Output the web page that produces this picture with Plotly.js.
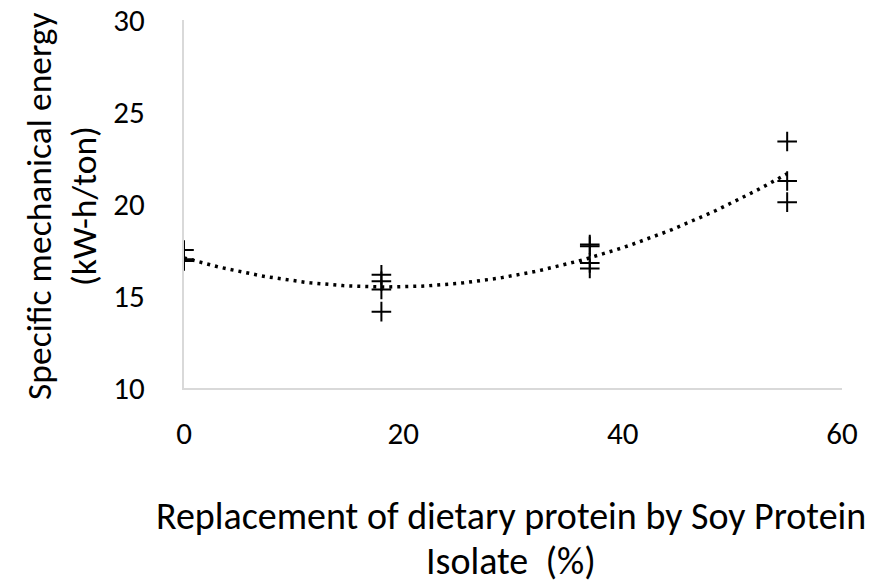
<!DOCTYPE html>
<html>
<head>
<meta charset="utf-8">
<script src="https://cdn.plot.ly/plotly-3.0.1.min.js"></script>
<style>html,body{margin:0;padding:0;background:#fff;}#chart{width:871px;height:583px;}</style>
</head>
<body>
<div id="chart"></div>
<script>
// Observed data: replacement level (%) and specific mechanical energy (kW-h/ton)
var replacement = [0, 0, 0, 18, 18, 18, 18, 37, 37, 37, 37, 55, 55, 55];
var sme = [17.5, 17.0, 16.9, 16.15, 15.8, 15.35, 14.15, 17.8, 17.7, 16.8, 16.5, 23.4, 21.25, 20.1];

var xTicks = [0, 20, 40, 60];
var yTicks = [10, 15, 20, 25, 30];
var xTitleLines = ["Replacement of dietary protein by Soy Protein", "Isolate  (%)"];
var yTitleLines = ["Specific mechanical energy", "(kW-h/ton)"];

// Order-2 polynomial least-squares trendline (as in a spreadsheet trendline)
function polyFit2(xs, ys) {
  var n = xs.length, s = [0,0,0,0,0], t = [0,0,0];
  for (var i = 0; i < n; i++) {
    var x = xs[i], y = ys[i];
    for (var k = 0; k < 5; k++) s[k] += Math.pow(x, k);
    for (var k2 = 0; k2 < 3; k2++) t[k2] += Math.pow(x, k2) * y;
  }
  var A = [[s[0], s[1], s[2], t[0]], [s[1], s[2], s[3], t[1]], [s[2], s[3], s[4], t[2]]];
  for (var c = 0; c < 3; c++) {
    for (var r = c + 1; r < 3; r++) {
      var f = A[r][c] / A[c][c];
      for (var j = c; j < 4; j++) A[r][j] -= f * A[c][j];
    }
  }
  var b = [0,0,0];
  for (var r2 = 2; r2 >= 0; r2--) {
    var v = A[r2][3];
    for (var j2 = r2 + 1; j2 < 3; j2++) v -= A[r2][j2] * b[j2];
    b[r2] = v / A[r2][r2];
  }
  return b;
}
var coef = polyFit2(replacement, sme);
var xMin = Math.min.apply(null, replacement), xMax = Math.max.apply(null, replacement);
var trendX = [], trendY = [];
for (var i = 0; i <= 110; i++) {
  var xv = xMin + (xMax - xMin) * i / 110;
  trendX.push(xv);
  trendY.push(coef[0] + coef[1] * xv + coef[2] * xv * xv);
}

var FONT = 'Carlito, Calibri, Lato, sans-serif';

var traces = [
  {
    x: trendX, y: trendY, type: 'scatter', mode: 'lines',
    line: {color: '#000', width: 3.5, dash: '3px,5px'},
    hoverinfo: 'skip', showlegend: false
  },
  {
    x: replacement, y: sme, type: 'scatter', mode: 'markers',
    marker: {symbol: 'cross-thin-open', size: 14, color: '#000', line: {color: '#000', width: 2}},
    showlegend: false
  }
];

var W = 871, H = 583;
var L = 184, R = 29, T = 20, B = 195;
var pw = W - L - R, ph = H - T - B;
function px2paperX(px) { return (px - L) / pw; }
function px2paperY(py) { return (H - B - py) / ph; }

var annotations = [
  {text: xTitleLines[0], xref: 'paper', yref: 'paper', x: px2paperX(511), y: px2paperY(516), xanchor: 'center', yanchor: 'middle', showarrow: false, font: {family: FONT, size: 38, color: '#000'}},
  {text: xTitleLines[1], xref: 'paper', yref: 'paper', x: px2paperX(511), y: px2paperY(561), xanchor: 'center', yanchor: 'middle', showarrow: false, font: {family: FONT, size: 38, color: '#000'}},
  {text: yTitleLines[0], xref: 'paper', yref: 'paper', x: px2paperX(39), y: px2paperY(206), xanchor: 'center', yanchor: 'middle', textangle: -90, showarrow: false, font: {family: FONT, size: 35.5, color: '#000'}},
  {text: yTitleLines[1], xref: 'paper', yref: 'paper', x: px2paperX(84), y: px2paperY(206), xanchor: 'center', yanchor: 'middle', textangle: -90, showarrow: false, font: {family: FONT, size: 35.5, color: '#000'}}
];

var layout = {
  width: W, height: H,
  margin: {l: L, r: R, t: T, b: B, pad: 0},
  paper_bgcolor: '#fff', plot_bgcolor: '#fff',
  showlegend: false,
  xaxis: {
    range: [0, 60], tickvals: xTicks, ticktext: xTicks.map(String),
    showgrid: false, zeroline: false, showline: true, linecolor: '#d9d9d9', linewidth: 2,
    ticks: 'outside', ticklen: 17, tickcolor: 'rgba(0,0,0,0)',
    tickfont: {family: FONT, size: 31, color: '#000'}, fixedrange: true
  },
  yaxis: {
    range: [10, 30], tickvals: yTicks, ticktext: yTicks.map(String),
    showgrid: false, zeroline: false, showline: true, linecolor: '#d9d9d9', linewidth: 2,
    ticks: 'outside', ticklen: 31, tickcolor: 'rgba(0,0,0,0)',
    tickfont: {family: FONT, size: 31, color: '#000'}, fixedrange: true
  },
  annotations: annotations
};

Plotly.newPlot('chart', traces, layout, {displayModeBar: false, staticPlot: true});
</script>
</body>
</html>
